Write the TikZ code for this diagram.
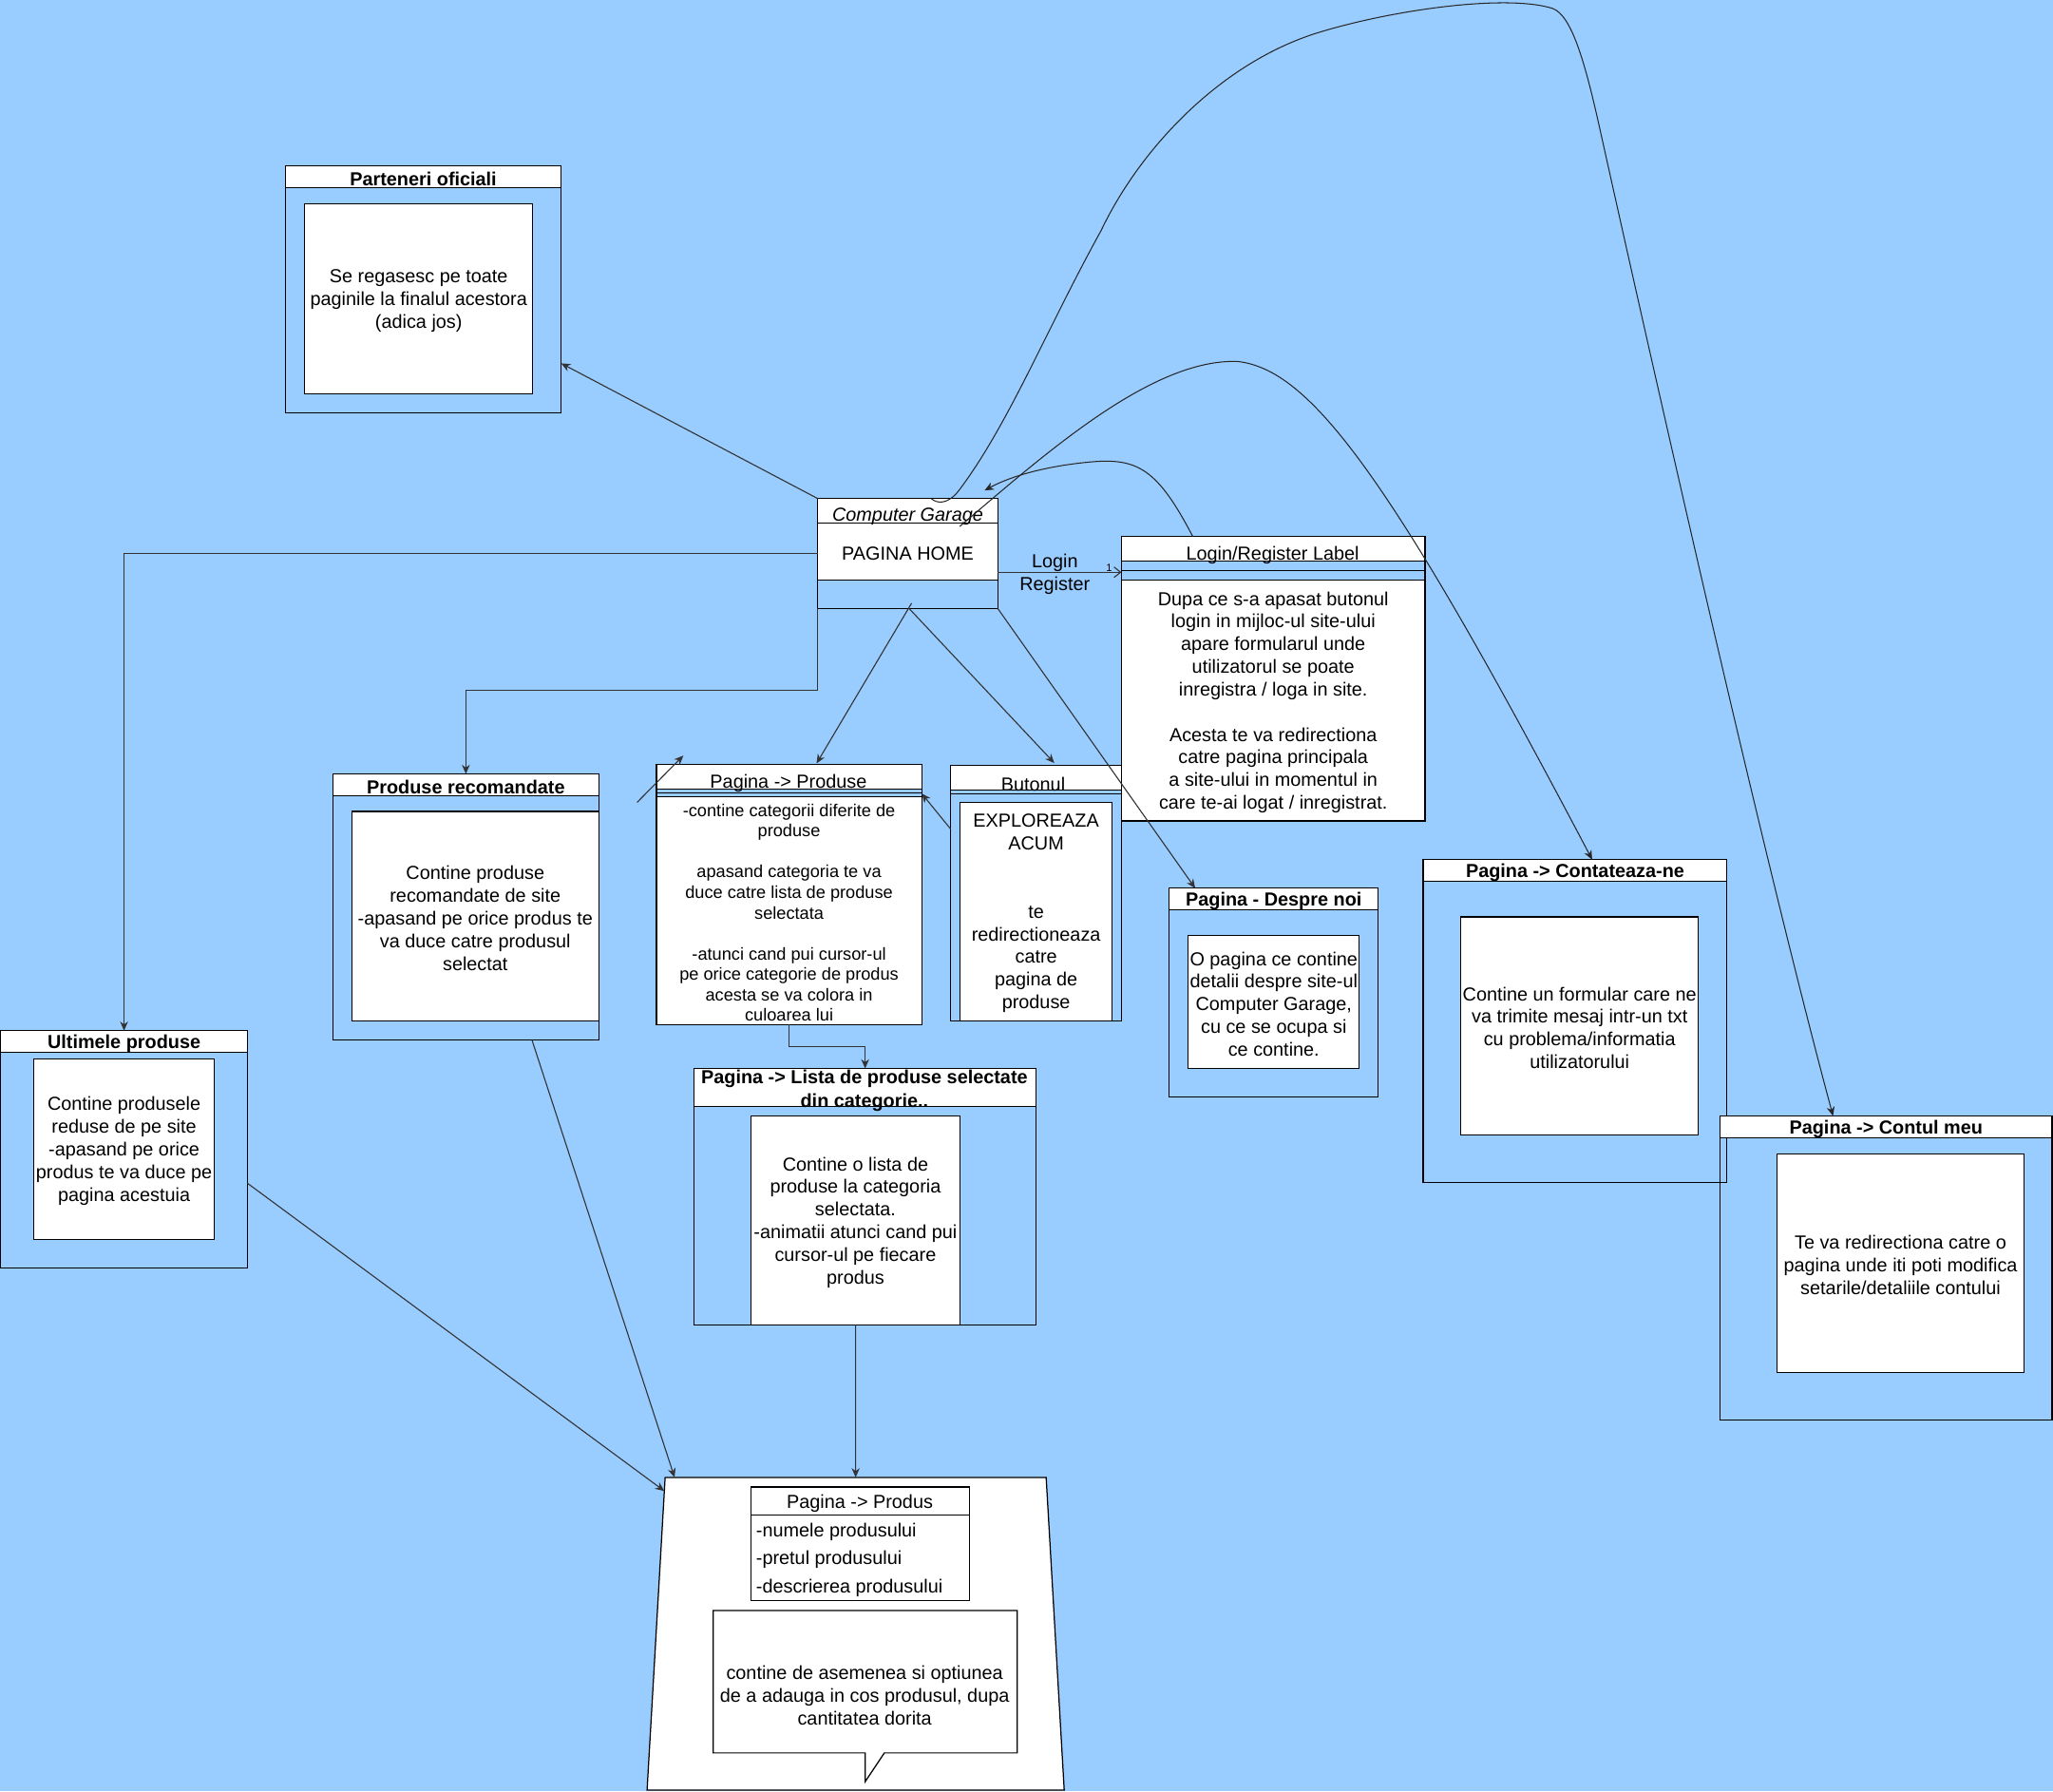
\documentclass[tikz,border=0pt]{standalone}
\usepackage{fontspec}
\setmainfont{Liberation Sans}
\usetikzlibrary{arrows.meta,calc}
\definecolor{bgblue}{RGB}{153,204,255}
\tikzset{
  frame/.style={draw=black, line width=0.9pt, inner sep=0pt, outer sep=0pt, anchor=north west},
  wfill/.style={frame, fill=white},
  sepline/.style={draw=black, line width=0.9pt},
  conn/.style={draw=black!80, line width=0.8pt},
  arrtip/.style={-{Stealth[length=7pt,width=6pt,inset=2.2pt]}},
  arr/.style={conn, arrtip},
  crv/.style={draw=black!85, line width=0.75pt},
  txt/.style={inner sep=0pt, outer sep=0pt, align=center, text=black, yshift=-1.5pt, font=\fontsize{14.4}{17.3}\selectfont},
  ttl/.style={txt, font=\bfseries\fontsize{14.4}{17.3}\selectfont},
  sml/.style={txt, font=\fontsize{13.2}{15.65}\selectfont},
}
\begin{document}
\begin{tikzpicture}[x=1pt,y=-1pt]
\fill[bgblue] (0,0) rectangle (1568,1368);
\useasboundingbox (0,0) rectangle (1568,1368);

% Parteneri oficiali
\node[frame, minimum width=210.6pt, minimum height=188.7pt] (par) at (218,126.5) {};
\node[wfill, minimum width=210.6pt, minimum height=17pt] (parH) at (218,126.5) {};
\node[ttl] (parT) at (parH) {Parteneri oficiali};
\node[wfill, minimum width=174.2pt, minimum height=145.2pt] (parI) at (232.7,155.5) {};
\node[txt] (parX) at (parI) {Se regasesc pe toate\\paginile la finalul acestora\\(adica jos)};

% Computer Garage
\node[frame, minimum width=137.5pt, minimum height=83.9pt] (cg) at (624.5,380.7) {};
\node[wfill, minimum width=137.5pt, minimum height=62.1pt] (cgW) at (624.5,380.7) {};
\draw[sepline] ($(cg.north west)+(0,18.6)$) -- ($(cg.north east)+(0,18.6)$);
\node[txt, font=\itshape\fontsize{14.4}{17.3}\selectfont] (cgT) at (693.3,393) {Computer Garage};
\node[txt] (cgX) at (693.3,421) {PAGINA HOME};

% Login/Register Label
\node[frame, minimum width=231.9pt, minimum height=217.2pt] (lr) at (856.5,409.7) {};
\node[wfill, minimum width=231.9pt, minimum height=18.6pt] (lrH) at (856.5,409.7) {};
\node[wfill, minimum width=231.9pt, minimum height=184.1pt] (lrB) at (856.5,442.8) {};
\draw[sepline] ($(lr.north west)+(0,25.9)$) -- ($(lr.north east)+(0,25.9)$);
\node[txt] (lrT) at (972,422.5) {Login/Register Label};
\node[txt] (lrX) at (lrB) {Dupa ce s-a apasat butonul\\login in mijloc-ul site-ului\\apare formularul unde\\utilizatorul se poate\\inregistra / loga in site.\\~\\Acesta te va redirectiona\\catre pagina principala\\a site-ului in momentul in\\care te-ai logat / inregistrat.};

% Produse recomandate
\node[frame, minimum width=203pt, minimum height=203.2pt] (rec) at (254.3,591) {};
\node[wfill, minimum width=203pt, minimum height=16.6pt] (recH) at (254.3,591) {};
\node[ttl] (recT) at (recH) {Produse recomandate};
\node[wfill, minimum width=188.6pt, minimum height=159.9pt] (recI) at (268.7,619.7) {};
\node[txt] (recX) at (recI) {Contine produse\\recomandate de site\\-apasand pe orice produs te\\va duce catre produsul\\selectat};

% Ultimele produse
\node[frame, minimum width=188.3pt, minimum height=181.2pt] (ult) at (0.6,787.1) {};
\node[wfill, minimum width=188.3pt, minimum height=16.4pt] (ultH) at (0.6,787.1) {};
\node[ttl] (ultT) at (ultH) {Ultimele produse};
\node[wfill, minimum width=137.9pt, minimum height=137.7pt] (ultI) at (25.8,808.6) {};
\node[txt] (ultX) at (ultI) {Contine produsele\\reduse de pe site\\-apasand pe orice\\produs te va duce pe\\pagina acestuia};

% Pagina -> Produse
\node[frame, minimum width=202.7pt, minimum height=198.5pt] (prd) at (501.3,584) {};
\node[wfill, minimum width=202.7pt, minimum height=18.8pt] (prdH) at (501.3,584) {};
\node[wfill, minimum width=202.7pt, minimum height=174.1pt] (prdB) at (501.3,608.4) {};
\draw[sepline] ($(prd.north west)+(0,21.5)$) -- ($(prd.north east)+(0,21.5)$);
\node[txt] (prdT) at (602.2,596.5) {Pagina -> Produse};
\node[sml] (prdX) at (prdB) {-contine categorii diferite de\\produse\\~\\apasand categoria te va\\duce catre lista de produse\\selectata\\~\\-atunci cand pui cursor-ul\\pe orice categorie de produs\\acesta se va colora in\\culoarea lui};

% Butonul
\node[frame, minimum width=130.5pt, minimum height=194.7pt] (btn) at (726,584.7) {};
\node[wfill, minimum width=130.5pt, minimum height=18.8pt] (btnH) at (726,584.7) {};
\draw[sepline] ($(btn.north west)+(0,21.5)$) -- ($(btn.north east)+(0,21.5)$);
\node[wfill, minimum width=116.3pt, minimum height=166.7pt] (btnI) at (733.2,612.7) {};
\node[txt] (btnT) at (789.1,597.3) {Butonul};
\node[txt] (btnX) at (btnI) {EXPLOREAZA\\ACUM\\~\\~\\te\\redirectioneaza\\catre\\pagina de\\produse};

% Lista de produse
\node[frame, minimum width=261.5pt, minimum height=195.9pt] (lst) at (530,815.9) {};
\node[wfill, minimum width=261.5pt, minimum height=29pt] (lstH) at (530,815.9) {};
\node[ttl, font=\bfseries\fontsize{14.4}{18}\selectfont] (lstT) at (660.2,831.5) {Pagina -> Lista de produse selectate\\din categorie..};
\node[wfill, minimum width=159.7pt, minimum height=159.6pt] (lstI) at (573.5,852.2) {};
\node[txt] (lstX) at (lstI) {Contine o lista de\\produse la categoria\\selectata.\\-animatii atunci cand pui\\cursor-ul pe fiecare\\produs};

% Despre noi
\node[frame, minimum width=159.7pt, minimum height=159.3pt] (dsp) at (893,678.3) {};
\node[wfill, minimum width=159.7pt, minimum height=16.2pt] (dspH) at (893,678.3) {};
\node[ttl] (dspT) at (dspH) {Pagina - Despre noi};
\node[wfill, minimum width=130.7pt, minimum height=101.6pt] (dspI) at (907.5,714.4) {};
\node[txt] (dspX) at (dspI) {O pagina ce contine\\detalii despre site-ul\\Computer Garage,\\cu ce se ocupa si\\ce contine.};

% Contateaza-ne
\node[frame, minimum width=232pt, minimum height=246.5pt] (cnt) at (1087,656.4) {};
\node[wfill, minimum width=232pt, minimum height=16.8pt] (cntH) at (1087,656.4) {};
\node[ttl] (cntT) at (cntH) {Pagina -> Contateaza-ne};
\node[wfill, minimum width=181.3pt, minimum height=166.7pt] (cntI) at (1115.8,700.1) {};
\node[txt] (cntX) at (cntI) {Contine un formular care ne\\va trimite mesaj intr-un txt\\cu problema/informatia\\utilizatorului};

% Contul meu
\node[frame, minimum width=253.6pt, minimum height=232.3pt] (acc) at (1313.7,852.2) {};
\node[wfill, minimum width=253.6pt, minimum height=16.8pt] (accH) at (1313.7,852.2) {};
\node[ttl] (accT) at (accH) {Pagina -> Contul meu};
\node[wfill, minimum width=188.7pt, minimum height=166.6pt] (accI) at (1357.2,881.3) {};
\node[txt] (accX) at (accI) {Te va redirectiona catre o\\pagina unde iti poti modifica\\setarile/detaliile contului};

% Pagina -> Produs container (trapezoid)
\draw[line width=0.9pt, fill=white] (508,1128.2) coordinate (trNW) -- (799,1128.2) coordinate (trNE) -- (812.8,1367) coordinate (trSE) -- (494.2,1367) coordinate (trSW) -- cycle;
\node[wfill, minimum width=166.9pt, minimum height=86.8pt] (pp) at (573.5,1135.5) {};
\draw[sepline] ($(pp.north west)+(0,21.7)$) -- ($(pp.north east)+(0,21.7)$);
\node[txt] (ppT) at (656.7,1146.5) {Pagina -> Produs};
\node[txt, anchor=west] (pp1) at (577.5,1168.3) {-numele produsului};
\node[txt, anchor=west] (pp2) at (577.5,1189.8) {-pretul produsului};
\node[txt, anchor=west] (pp3) at (577.5,1211.3) {-descrierea produsului};
\draw[line width=0.9pt, fill=white] (544.7,1229.8) coordinate (calNW) -- (777,1229.8) -- (777,1338.6) -- (675.4,1338.6) -- (660.9,1360.4) -- (660.9,1338.6) -- (544.7,1338.6) -- cycle;
\node[txt] (calT) at (660.4,1293.2) {contine de asemenea si optiunea\\de a adauga in cos produsul, dupa\\cantitatea dorita};

% ---------- connectors ----------
\draw[arr] (cg.north west) -- ($(par.north east)!0.8!(par.south east)$);
\draw[arr] (cg.west) -| (ult.north);
\draw[arr] (cg.south west) -- ++(0,62.4) -| (rec.north);
\draw[arr] ($(cg.south)+(3,-4)$) -- ($(prd.north)+(21,-1)$);
\draw[arr] ($(cg.south)+(1,0)$) -- ($(btn.north)+(14,-2)$);
\draw[arr] (cg.south east) -- ($(dsp.north)+(-60,0)$);
\draw[conn, -{Straight Barb[length=5pt,width=8pt]}] ($(cg.north east)+(0,56.3)$) -- ($(lr.north west)+(0,27.3)$);
\node[txt] (lrLbl) at (805.6,437) {Login\\Register};
\node[txt, font=\fontsize{8}{9}\selectfont] (one) at (847,432) {1};
\draw[arr] ($(btn.north west)+(0,48.3)$) -- ($(prd.north east)+(0,22)$);
\coordinate (fa1) at (486.6,612.7);
\coordinate (fa2) at (521.9,577);
\draw[arr] (fa1) -- (fa2);
\draw[arr] (prd.south) |- ($(lst.north)+(0,-16.4)$) -- (lst.north);
\draw[arr] ($(lst.south)+(-7.3,0)$) -- ($(trNW)!0.5!(trNE)$);
\draw[arr] ($(rec.south)+(50.5,0)$) -- ($(trNW)+(7.2,0)$);
\draw[arr] ($(ult.north east)+(0,116.4)$) -- ($(trNW)!0.0435!(trSW)$);

% curves
\draw[crv, arrtip] ($(lr.north west)+(54.5,0)$) .. controls (885,360) and (870,350) .. (836,352.5) .. controls (805,355) and (775,362) .. ($(cg.north east)+(-10,-6.2)$);
\draw[crv, arrtip] ($(cg.north east)+(-29,21.3)$) .. controls (800,345) and (880,274) .. (945,276) .. controls (1000,282) and (1060,360) .. ($(cnt.north)+(13,0)$);
\draw[crv, arrtip] ($(cg.north)+(18,0)$) .. controls (716,385) and (724,385) .. (732,375) .. controls (770,325) and (800,250) .. (841,176) .. controls (870,115) and (930,50) .. (1003.6,25.9) .. controls (1060,8) and (1150,-5) .. (1186,6.5) .. controls (1200,12) and (1210,45) .. (1221.5,96.7) .. controls (1266,296.7) and (1346,651.6) .. ($(acc.north)+(-40.5,0)$);
\end{tikzpicture}
\end{document}
